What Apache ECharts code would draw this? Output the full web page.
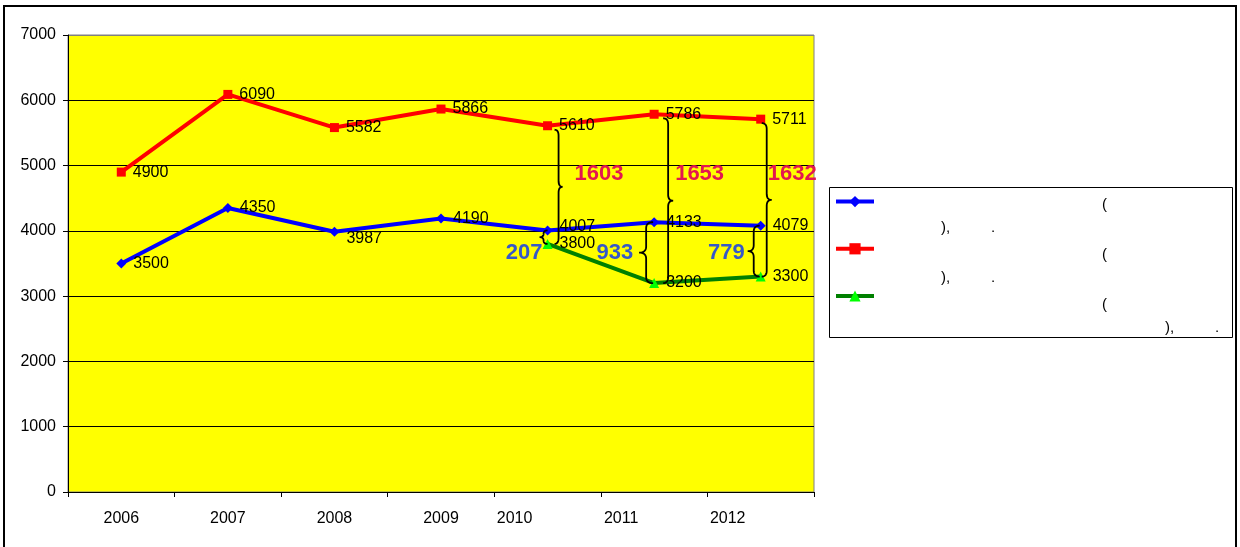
<!DOCTYPE html>
<html>
<head>
<meta charset="utf-8">
<script src="https://cdn.jsdelivr.net/npm/echarts@6/dist/echarts.min.js"></script>
<style>
  html, body { margin: 0; padding: 0; background: #fff; }
  #chart { width: 1240px; height: 547px; }
</style>
</head>
<body>
<div id="chart"></div>
<script>
// data
const years = ['2006', '2007', '2008', '2009', '2010', '2011', '2012'];
const blueVals = [3500, 4350, 3987, 4190, 4007, 4133, 4079];
const redVals = [4900, 6090, 5582, 5866, 5610, 5786, 5711];
const greenVals = [null, null, null, null, 3800, 3200, 3300];
const gapYears = [4, 5, 6];              // indexes of 2010, 2011, 2012
const gapRedBlue = [1603, 1653, 1632];
const gapBlueGreen = [207, 933, 779];
// legend text (only the punctuation survives in the picture)
const legendLines = [
  ['(', '),', '.'],
  ['(', '),', '.'],
  ['(', '),', '.']
];

const FONT = 'Liberation Sans, Arial, sans-serif';
const chart = echarts.init(document.getElementById('chart'));

// a couple of labels sit a little off the point in the original
const labelShift = { 2: [0, 7], 4: [0, -4] };

function withLabels(vals, shifts) {
  return vals.map((v, i) => {
    if (shifts && shifts[i]) return { value: v, label: { offset: shifts[i] } };
    return v;
  });
}

const baseLabel = {
  show: true, position: 'right', distance: 7,
  color: '#000', fontFamily: FONT, fontSize: 16
};

let option = {
  animation: false,
  grid: {
    left: 68, top: 35, width: 746, height: 457,
    show: true, backgroundColor: '#ffff00', borderColor: '#808080', borderWidth: 1
  },
  legend: {
    orient: 'vertical', left: 834, top: 196, padding: 0,
    itemWidth: 38, itemHeight: 14, itemGap: 36,
    formatter: () => '',
    lineStyle: { width: 4 },
    textStyle: { fontSize: 14, lineHeight: 14 },
    selectedMode: false
  },
  xAxis: {
    type: 'category', data: years, boundaryGap: true,
    axisLine: { lineStyle: { color: '#000', width: 1 } },
    axisTick: { show: true, length: 5, lineStyle: { color: '#000' } },
    axisLabel: {
      margin: 19, color: '#000', fontFamily: FONT, fontSize: 16,
      formatter: (v, i) => i >= 4 ? '{s|' + v + '}' : v,
      rich: { s: { padding: [0, 66, 0, 0], fontFamily: FONT, fontSize: 16, color: '#000' } }
    }
  },
  yAxis: {
    type: 'value', min: 0, max: 7000, interval: 1000,
    axisLine: { show: true, lineStyle: { color: '#000', width: 1 } },
    axisTick: { show: true, length: 5, lineStyle: { color: '#000' } },
    axisLabel: { margin: 12, color: '#000', fontFamily: FONT, fontSize: 16, formatter: v => String(v) },
    splitLine: { lineStyle: { color: ['#000', '#000', '#000', '#000', '#000', '#000', '#000', '#808080'], width: 1 } }
  },
  series: [
    {
      name: 's1', type: 'line', data: withLabels(blueVals, labelShift),
      symbol: 'diamond', symbolSize: 10,
      lineStyle: { color: '#0000ff', width: 4 },
      itemStyle: { color: '#0000ff' },
      label: baseLabel, z: 3
    },
    {
      name: 's2', type: 'line', data: redVals,
      symbol: 'rect', symbolSize: 9,
      lineStyle: { color: '#ff0000', width: 4 },
      itemStyle: { color: '#ff0000' },
      label: baseLabel, z: 3
    },
    {
      name: 's3', type: 'line', data: greenVals,
      symbol: 'triangle', symbolSize: 10,
      lineStyle: { color: '#008000', width: 4 },
      itemStyle: { color: '#00ff00' },
      label: baseLabel, z: 2
    }
  ]
};
chart.setOption(option);

// curly brace as a sampled polyline: x = where the ends sit, dir 1 = tip right, -1 = tip left
function quad(p0, p1, p2, out) {
  for (let t = 0.1; t <= 1.0001; t += 0.1) {
    const a = (1 - t) * (1 - t), b = 2 * (1 - t) * t, c = t * t;
    out.push([a * p0[0] + b * p1[0] + c * p2[0], a * p0[1] + b * p1[1] + c * p2[1]]);
  }
}
function bracePoints(x, y1, y2, w, dir) {
  const ym = (y1 + y2) / 2;
  const xm = x + dir * w / 2, xt = x + dir * w;
  const r = Math.min(6, (y2 - y1) / 4);
  const pts = [[x, y1]];
  quad([x, y1], [xm, y1], [xm, y1 + r], pts);
  pts.push([xm, ym - r]);
  quad([xm, ym - r], [xm, ym], [xt, ym], pts);
  quad([xt, ym], [xm, ym], [xm, ym + r], pts);
  pts.push([xm, y2 - r]);
  quad([xm, y2 - r], [xm, y2], [x, y2], pts);
  return pts;
}

const px = (i, v) => chart.convertToPixel({ seriesIndex: 0 }, [i, v]);

// layout of the annotations, relative to each category centre
const bigBraceDx = [7, 9, 1], bigBraceW = [8, 10, 10];
const smallBraceDx = [0, -1, -1], smallBraceW = [8, 14, 12];
const bigLabelDx = [27, 21, 7], smallLabelDx = [-5, -21, -16];
const bigLabelY = 4870, smallLabelY = 3660;

const graphic = [];
gapYears.forEach((ci, k) => {
  const cx = px(ci, 0)[0];
  const yRed = px(ci, redVals[ci])[1];
  const yBlue = px(ci, blueVals[ci])[1];
  const yGreen = px(ci, greenVals[ci])[1];
  graphic.push({
    type: 'polyline', z: 10,
    shape: { points: bracePoints(cx + bigBraceDx[k], yRed + 4, yGreen, bigBraceW[k], 1) },
    style: { fill: null, stroke: '#000', lineWidth: 1.8 }
  });
  graphic.push({
    type: 'polyline', z: 10,
    shape: { points: bracePoints(cx + smallBraceDx[k], yBlue, yGreen, smallBraceW[k], -1) },
    style: { fill: null, stroke: '#000', lineWidth: 1.8 }
  });
  graphic.push({
    type: 'text', z: 11, x: cx + bigLabelDx[k], y: px(ci, bigLabelY)[1],
    style: {
      text: String(gapRedBlue[k]), fill: '#e3174f', font: 'bold 22px ' + FONT,
      textAlign: 'left', textVerticalAlign: 'middle'
    }
  });
  graphic.push({
    type: 'text', z: 11, x: cx + smallLabelDx[k], y: px(ci, smallLabelY)[1],
    style: {
      text: String(gapBlueGreen[k]), fill: '#3558c9', font: 'bold 22px ' + FONT,
      textAlign: 'right', textVerticalAlign: 'middle'
    }
  });
});

// legend frame and its surviving text
graphic.push({
  type: 'rect', z: -1, shape: { x: 829.5, y: 187.5, width: 403, height: 150 },
  style: { fill: '#fff', stroke: '#000', lineWidth: 1 }
});
const legendPos = [
  [[1102, 205], [941, 228], [991, 228]],
  [[1102, 255], [941, 278], [991, 278]],
  [[1102, 305], [1165, 328], [1215, 328]]
];
legendLines.forEach((parts, r) => {
  parts.forEach((t, j) => {
    graphic.push({
      type: 'text', z: 2, x: legendPos[r][j][0], y: legendPos[r][j][1],
      style: { text: t, fill: '#000', font: '15px ' + FONT, textAlign: 'left', textVerticalAlign: 'middle' }
    });
  });
});

// outer chart border
graphic.push({
  type: 'rect', z: 0, shape: { x: 4, y: 6, width: 1232, height: 544 },
  style: { fill: null, stroke: '#000', lineWidth: 2 }
});

chart.setOption({ graphic: graphic });
</script>
</body>
</html>
